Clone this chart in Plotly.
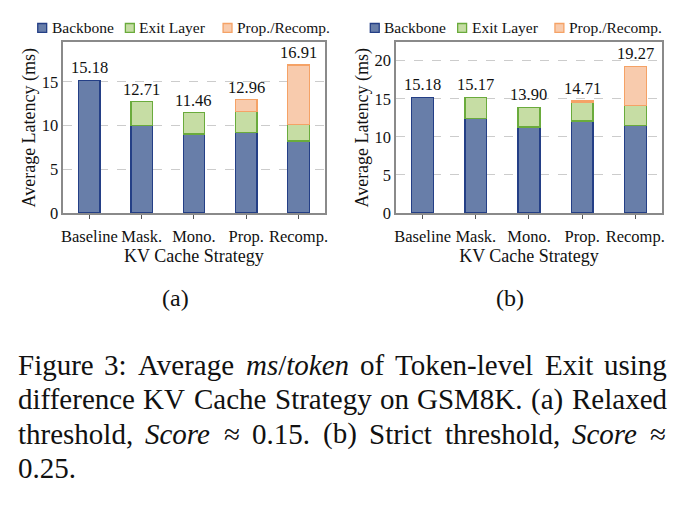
import plotly.graph_objects as go

# ---------------- data ----------------
categories = ["Baseline", "Mask.", "Mono.", "Prop.", "Recomp."]
series_names = ["Backbone", "Exit Layer", "Prop./Recomp."]

# (a) relaxed threshold  (None = component not present)
totals_a = [15.18, 12.71, 11.46, 12.96, 16.91]
backbone_a = [15.18, 9.97, 9.04, 9.23, 8.22]
exit_a = [None, 2.74, 2.42, 2.35, 1.90]
prop_a = [None, None, None, 1.38, 6.79]

# (b) strict threshold
totals_b = [15.18, 15.17, 13.90, 14.71, 19.27]
backbone_b = [15.18, 12.43, 11.28, 12.10, 11.49]
exit_b = [None, 2.74, 2.62, 2.44, 2.61]
prop_b = [None, None, None, 0.17, 5.17]

yticks_a = [0, 5, 10, 15]
yticks_b = [0, 5, 10, 15, 20]

# caption: lines of words; each word is a list of (text, italic) pieces
caption_lines = [
    [[("Figure", 0)], [("3:", 0)], [("Average", 0)], [("ms", 1), ("/", 0), ("token", 1)],
     [("of", 0)], [("Token-level", 0)], [("Exit", 0)], [("using", 0)]],
    [[("difference", 0)], [("KV", 0)], [("Cache", 0)], [("Strategy", 0)], [("on", 0)],
     [("GSM8K.", 0)], [("(a)", 0)], [("Relaxed", 0)]],
    [[("threshold,", 0)], [("Score", 1)], [("\u2248", 0)], [("0.15.", 0)], [("(b)", 0)],
     [("Strict", 0)], [("threshold,", 0)], [("Score", 1)], [("\u2248", 0)]],
    [[("0.25.", 0)]],
]
caption_justify = [True, True, True, False]
sub_labels = ["(a)", "(b)"]

# ---------------- style ----------------
W, H = 686, 505
FONT = "Liberation Serif"
fills = ["#687ea9", "#c6dda4", "#f8cbad"]
edges = ["#243f86", "#6aab3c", "#f5a266"]

# Times (= Liberation Serif metrics) advance widths, 1/1000 em
ROMAN = {" ": 250, "(": 333, ")": 333, ",": 250, "-": 333, ".": 250, "/": 278, ":": 278,
         "\u2248": 549, "A": 722, "C": 667, "E": 611, "F": 556, "G": 722, "K": 722,
         "M": 889, "R": 667, "S": 556, "T": 611, "V": 722,
         "a": 444, "b": 500, "c": 444, "d": 500, "e": 444, "f": 333, "g": 500, "h": 500,
         "i": 278, "k": 500, "l": 278, "m": 778, "n": 500, "o": 500, "r": 333, "s": 389,
         "t": 278, "u": 500, "v": 500, "x": 500, "y": 500}
ITALIC = {"S": 500, "c": 444, "o": 500, "r": 389, "e": 444, "m": 722, "s": 389,
          "t": 278, "k": 444, "n": 500}


def word_width(pieces, size):
    w = 0
    for txt, it in pieces:
        for ch in txt:
            tab = ITALIC if it else ROMAN
            w += tab.get(ch, ROMAN.get(ch, 500))
    return w * size / 1000.0


def word_html(pieces):
    return "".join(f"<i>{t}</i>" if it else t for t, it in pieces)


def px(x):
    return x / W


def py(y):
    return 1 - y / H


fig = go.Figure()

panels = [
    ("x", "y", [backbone_a, exit_a, prop_a], totals_a),
    ("x2", "y2", [backbone_b, exit_b, prop_b], totals_b),
]
for xa, ya, comps, tots in panels:
    for name, vals, fc, ec in zip(series_names, comps, fills, edges):
        fig.add_trace(go.Bar(
            x=categories, y=vals, name=name, xaxis=xa, yaxis=ya,
            width=0.41, marker=dict(color=fc, line=dict(color=ec, width=1.3)),
            showlegend=False,
        ))
    for c, t in zip(categories, tots):
        fig.add_annotation(
            x=c, y=t, xref=xa, yref=ya, text=f"{t:.2f}", showarrow=False,
            yanchor="bottom", yshift=1, font=dict(size=16.5, color="#111", family=FONT),
        )

axis_common = dict(
    showline=True, mirror=True, linecolor="#8a8a8a", linewidth=1.5,
)
xcommon = dict(
    axis_common, type="category", range=[-0.5, 4.5], ticks="outside", ticklen=4,
    tickcolor="#555", tickfont=dict(size=16.5, family=FONT, color="#111"),
    ticklabelstandoff=3,
    title=dict(text="KV Cache Strategy", font=dict(size=18, family=FONT, color="#111"),
               standoff=3),
    showgrid=False,
)
ycommon = dict(
    axis_common, ticks="", tickfont=dict(size=16.5, family=FONT, color="#111"),
    showgrid=True, gridcolor="#cccccc", griddash="dash", gridwidth=1,
    zeroline=False,
    title=dict(text="Average Latency (ms)", font=dict(size=18, family=FONT, color="#111"),
               standoff=1),
)

fig.update_layout(
    width=W, height=H, margin=dict(l=0, r=0, t=0, b=0),
    paper_bgcolor="white", plot_bgcolor="white",
    barmode="stack", showlegend=False,
    font=dict(family=FONT),
    xaxis=dict(xcommon, domain=[px(61.7), px(325)], anchor="y"),
    yaxis=dict(ycommon, domain=[py(217.3), py(43.3)], range=[0, 19.5],
               tickvals=yticks_a, anchor="x"),
    xaxis2=dict(xcommon, domain=[px(397), px(664.7)], anchor="y2"),
    yaxis2=dict(ycommon, domain=[py(217.3), py(43.3)], range=[0, 22.4],
                tickvals=yticks_b, anchor="x2"),
)

# custom legends (one per panel)
legend_layout = [
    [36, 124.3, 222.7],
    [371, 459, 557],
]
sq = 9
for starts in legend_layout:
    for name, x0, fc, ec in zip(series_names, starts, fills, edges):
        fig.add_shape(type="rect", xref="paper", yref="paper",
                      x0=px(x0), x1=px(x0 + sq), y0=py(28.5 + sq / 2), y1=py(28.5 - sq / 2),
                      fillcolor=fc, line=dict(color=ec, width=1.3))
        fig.add_annotation(xref="paper", yref="paper", x=px(x0 + sq + 3), y=py(28.5),
                           xanchor="left", yanchor="middle", showarrow=False, text=name,
                           font=dict(size=15.5, family=FONT, color="#111"))

# sub-figure labels
for lab, xc in zip(sub_labels, [175, 512]):
    fig.add_annotation(xref="paper", yref="paper", x=px(xc), y=py(304),
                       xanchor="center", yanchor="middle", showarrow=False, text=lab,
                       font=dict(size=24, family=FONT, color="#111"))

# caption (justified between left and right text edges)
CAP_SIZE = 29
left_edge, right_edge = 15, 668
for i, (words, just) in enumerate(zip(caption_lines, caption_justify)):
    widths = [word_width(w, CAP_SIZE) for w in words]
    if just and len(words) > 1:
        gap = (right_edge - left_edge - sum(widths)) / (len(words) - 1)
    else:
        gap = 0.25 * CAP_SIZE
    x = left_edge
    for w, wd in zip(words, widths):
        fig.add_annotation(xref="paper", yref="paper", x=px(x - 1), y=py(372 + 35.2 * i),
                           xanchor="left", yanchor="middle", showarrow=False,
                           text=word_html(w),
                           font=dict(size=CAP_SIZE, family=FONT, color="#111"))
        x += wd + gap

fig.write_html("out.html")
